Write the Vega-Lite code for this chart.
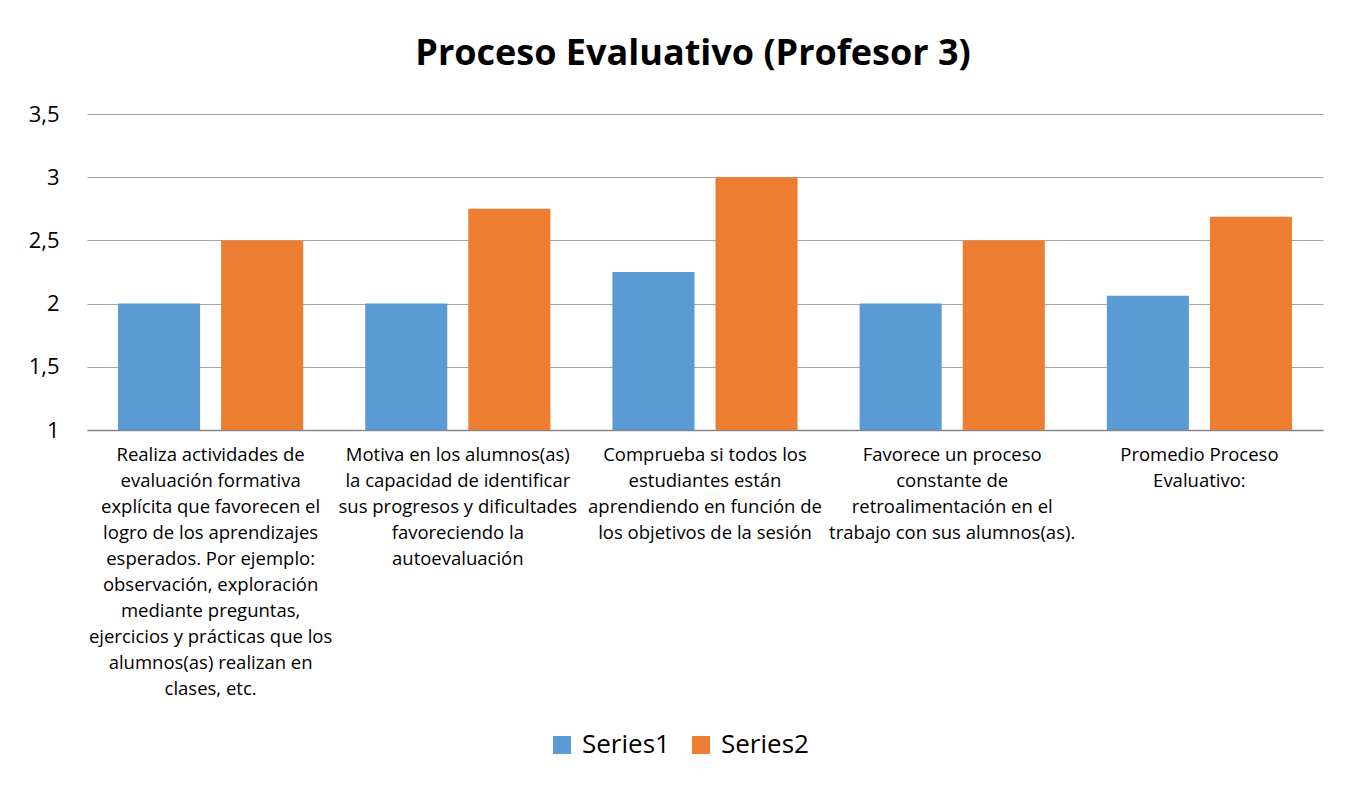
{
  "$schema": "https://vega.github.io/schema/vega-lite/v6.json",
  "autosize": {"type": "none"},
  "width": 1236,
  "height": 316,
  "padding": {"left": 87, "top": 114, "right": 26, "bottom": 357},
  "background": "white",
  "title": {
    "text": "Proceso Evaluativo (Profesor 3)",
    "font": "Open Sans",
    "fontSize": 36,
    "fontWeight": "bold",
    "color": "#000000",
    "anchor": "middle",
    "dx": -12,
    "offset": 30
  },
  "data": {
    "values": [
      {"item": "Realiza actividades de\nevaluación formativa\nexplícita que favorecen el\nlogro de los aprendizajes\nesperados. Por ejemplo:\nobservación, exploración\nmediante preguntas,\nejercicios y prácticas que los\nalumnos(as) realizan en\nclases, etc.", "serie": "Series1", "valor": 2},
      {"item": "Realiza actividades de\nevaluación formativa\nexplícita que favorecen el\nlogro de los aprendizajes\nesperados. Por ejemplo:\nobservación, exploración\nmediante preguntas,\nejercicios y prácticas que los\nalumnos(as) realizan en\nclases, etc.", "serie": "Series2", "valor": 2.5},
      {"item": "Motiva en los alumnos(as)\nla capacidad de identificar\nsus progresos y dificultades\nfavoreciendo la\nautoevaluación", "serie": "Series1", "valor": 2},
      {"item": "Motiva en los alumnos(as)\nla capacidad de identificar\nsus progresos y dificultades\nfavoreciendo la\nautoevaluación", "serie": "Series2", "valor": 2.75},
      {"item": "Comprueba si todos los\nestudiantes están\naprendiendo en función de\nlos objetivos de la sesión", "serie": "Series1", "valor": 2.25},
      {"item": "Comprueba si todos los\nestudiantes están\naprendiendo en función de\nlos objetivos de la sesión", "serie": "Series2", "valor": 3},
      {"item": "Favorece un proceso\nconstante de\nretroalimentación en el\ntrabajo con sus alumnos(as).", "serie": "Series1", "valor": 2},
      {"item": "Favorece un proceso\nconstante de\nretroalimentación en el\ntrabajo con sus alumnos(as).", "serie": "Series2", "valor": 2.5},
      {"item": "Promedio Proceso\nEvaluativo:", "serie": "Series1", "valor": 2.0625},
      {"item": "Promedio Proceso\nEvaluativo:", "serie": "Series2", "valor": 2.6875}
    ]
  },
  "mark": {"type": "bar"},
  "encoding": {
    "x": {
      "field": "item",
      "type": "nominal",
      "sort": null,
      "title": null,
      "scale": {"paddingInner": 0, "paddingOuter": 0},
      "axis": {
        "labelAngle": 0,
        "labelExpr": "split(datum.label, '\\n')",
        "labelFont": "Open Sans",
        "labelFontSize": 18.5,
        "labelColor": "#000000",
        "labelLineHeight": 26,
        "labelLimit": 0,
        "labelPadding": 15,
        "labelBaseline": "top",
        "ticks": false,
        "domainColor": "#868686",
        "domainWidth": 1.5,
        "grid": false
      }
    },
    "xOffset": {
      "field": "serie",
      "type": "nominal",
      "scale": {"paddingInner": 0.204, "paddingOuter": 0.301}
    },
    "y": {
      "field": "valor",
      "type": "quantitative",
      "title": null,
      "scale": {"domain": [1, 3.5], "zero": false, "nice": false},
      "axis": {
        "values": [1, 1.5, 2, 2.5, 3, 3.5],
        "labelExpr": "replace(format(datum.value, '.1~f'), '.', ',')",
        "labelFont": "Open Sans",
        "labelFontSize": 22,
        "labelColor": "#000000",
        "labelPadding": 28,
        "ticks": false,
        "domain": false,
        "gridColor": "#a6a6a6",
        "gridWidth": 1
      }
    },
    "y2": {"datum": 1},
    "color": {
      "field": "serie",
      "type": "nominal",
      "title": null,
      "scale": {"domain": ["Series1", "Series2"], "range": ["#5b9bd5", "#ed7d31"]},
      "legend": {
        "orient": "none",
        "legendX": 462,
        "legendY": 618,
        "direction": "horizontal",
        "symbolType": "square",
        "symbolSize": 324,
        "symbolStrokeWidth": 0,
        "labelFont": "Open Sans",
        "labelFontSize": 26,
        "labelColor": "#000000",
        "columnPadding": 18,
        "labelOffset": 7
      }
    }
  },
  "config": {
    "view": {"stroke": null}
  }
}
